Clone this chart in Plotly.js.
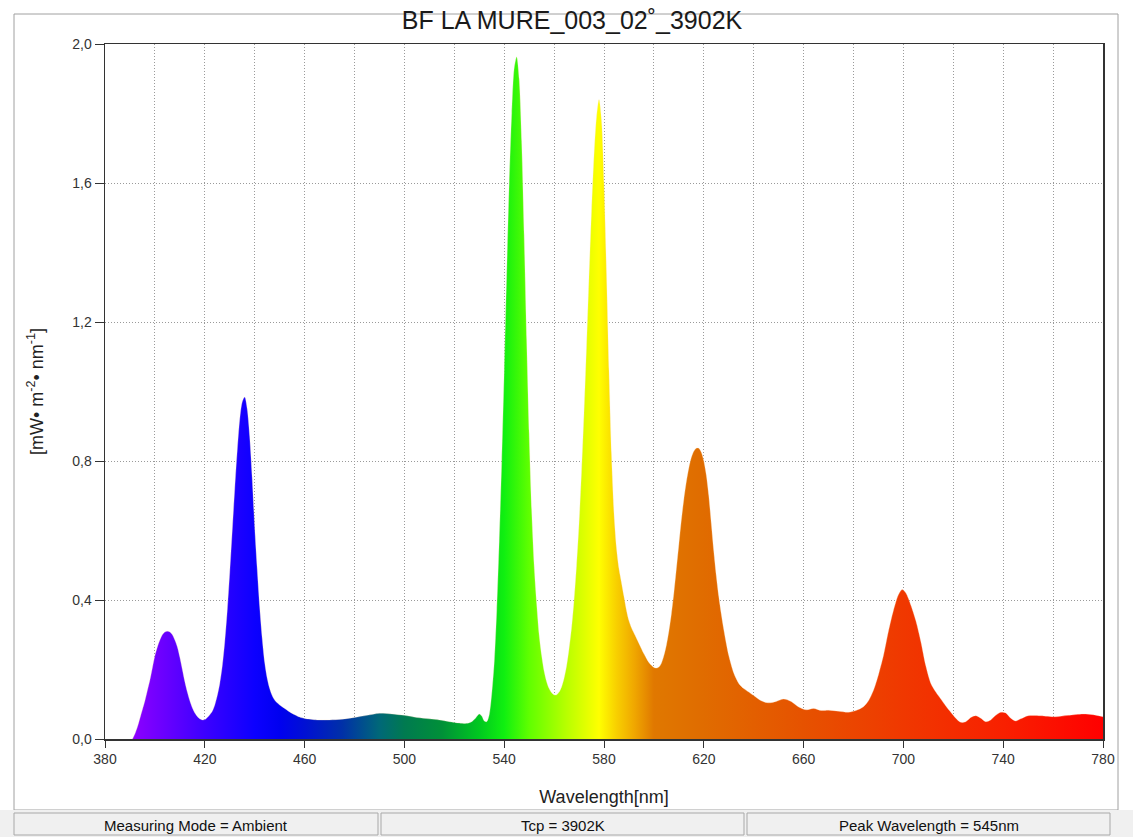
<!DOCTYPE html>
<html>
<head>
<meta charset="utf-8">
<script src="https://cdn.plot.ly/plotly-3.0.1.min.js"></script>
<style>html,body{margin:0;padding:0;background:#fff;}#chart{width:1133px;height:837px;}</style>
</head>
<body>
<div id="chart"></div>
<script>
// Spectral irradiance data (wavelength nm, mW·m-2·nm-1)
const wavelength = [391, 392, 393, 394, 395, 396, 397, 398, 399, 400, 401, 402, 403, 404, 405, 406, 407, 408, 409, 410, 411, 412, 413, 414, 415, 416, 417, 418, 419, 420, 421, 422, 423, 424, 425, 426, 427, 428, 429, 430, 431, 432, 433, 434, 435, 436, 437, 438, 439, 440, 441, 442, 443, 444, 445, 446, 447, 448, 449, 450, 452, 454, 456, 458, 460, 465, 470, 475, 480, 485, 490, 495, 500, 505, 510, 514, 518, 522, 525, 527, 528.5, 530, 531, 532, 533, 534, 535, 536, 537, 538, 539, 540, 541, 542, 543, 544, 545, 546, 547, 548, 549, 550, 551, 552, 553, 554, 555, 556, 557, 558, 559, 560, 561, 562, 563, 564, 565, 566, 567, 568, 569, 570, 571, 572, 573, 574, 575, 576, 577, 578, 579, 580, 581, 582, 583, 584, 585, 586, 587, 588, 589, 590, 591, 592, 593, 594, 595, 596, 597, 598, 599, 600, 601, 602, 603, 604, 605, 606, 607, 608, 609, 610, 611, 612, 613, 614, 615, 616, 617, 618, 619, 620, 621, 622, 623, 624, 625, 626, 627, 628, 629, 630, 632, 634, 636, 638, 640, 643, 646, 649, 652, 655, 658, 661, 664, 667, 670, 674, 678, 681, 684, 686, 688, 690, 692, 694, 696, 698, 699.5, 701, 703, 705, 707, 709, 711, 713, 715, 717, 719, 721, 723, 725, 727, 729, 731, 733, 735, 737, 739, 741, 743, 745, 747, 750, 755, 761, 766, 772, 776, 780];
const irradiance = [0, 0.015, 0.035, 0.06, 0.085, 0.11, 0.14, 0.17, 0.205, 0.24, 0.265, 0.285, 0.3, 0.308, 0.31, 0.308, 0.3, 0.285, 0.265, 0.235, 0.2, 0.165, 0.135, 0.11, 0.09, 0.075, 0.065, 0.058, 0.055, 0.056, 0.062, 0.07, 0.08, 0.098, 0.125, 0.16, 0.21, 0.28, 0.37, 0.48, 0.6, 0.72, 0.83, 0.92, 0.97, 0.984, 0.95, 0.87, 0.75, 0.61, 0.49, 0.38, 0.29, 0.22, 0.175, 0.145, 0.125, 0.112, 0.104, 0.098, 0.088, 0.078, 0.07, 0.063, 0.059, 0.055, 0.055, 0.057, 0.062, 0.068, 0.074, 0.072, 0.068, 0.062, 0.058, 0.055, 0.05, 0.046, 0.045, 0.05, 0.06, 0.072, 0.066, 0.052, 0.05, 0.07, 0.13, 0.22, 0.37, 0.57, 0.8, 1.06, 1.34, 1.6, 1.8, 1.93, 1.963, 1.9, 1.72, 1.45, 1.15, 0.88, 0.66, 0.5, 0.39, 0.3, 0.24, 0.195, 0.165, 0.145, 0.133, 0.127, 0.127, 0.135, 0.15, 0.175, 0.21, 0.26, 0.32, 0.4, 0.5, 0.62, 0.77, 0.94, 1.13, 1.33, 1.52, 1.68, 1.79, 1.84, 1.78, 1.6, 1.34, 1.06, 0.82, 0.65, 0.55, 0.49, 0.45, 0.41, 0.37, 0.34, 0.32, 0.305, 0.29, 0.275, 0.26, 0.245, 0.232, 0.22, 0.212, 0.206, 0.204, 0.207, 0.218, 0.24, 0.27, 0.31, 0.36, 0.42, 0.49, 0.56, 0.63, 0.69, 0.74, 0.78, 0.81, 0.828, 0.837, 0.837, 0.825, 0.8, 0.76, 0.7, 0.62, 0.54, 0.47, 0.41, 0.36, 0.315, 0.275, 0.24, 0.19, 0.16, 0.145, 0.135, 0.125, 0.11, 0.104, 0.108, 0.115, 0.108, 0.092, 0.084, 0.088, 0.082, 0.083, 0.08, 0.077, 0.082, 0.093, 0.11, 0.14, 0.185, 0.24, 0.31, 0.37, 0.415, 0.43, 0.42, 0.385, 0.34, 0.28, 0.21, 0.16, 0.135, 0.115, 0.095, 0.077, 0.06, 0.048, 0.05, 0.062, 0.067, 0.06, 0.05, 0.055, 0.068, 0.077, 0.075, 0.06, 0.052, 0.058, 0.067, 0.067, 0.064, 0.068, 0.072, 0.07, 0.064];

// Spectrum colour stops (wavelength nm -> colour)
const colorStopNm = [380, 390, 400, 420, 440, 450, 460, 475, 490, 500, 515, 530, 540, 550, 565, 578, 585, 592, 600, 620, 660, 700, 740, 780];
const colorStopHex = ['#9800ff', '#9000ff', '#7400ff', '#3c00ff', '#0c00ff', '#0000f0', '#0010d4', '#0030a8', '#006878', '#007a50', '#009038', '#00c820', '#10f010', '#60ff00', '#b8ff00', '#ffff00', '#f8d000', '#f0a800', '#e07800', '#e06c00', '#e65200', '#f03800', '#f82000', '#ff0000'];

const xTickVals = [380, 420, 460, 500, 540, 580, 620, 660, 700, 740, 780];
const yTickVals = [0, 0.4, 0.8, 1.2, 1.6, 2.0];

const chartTitle = 'BF LA MURE_003_02˚_3902K';
const statusTexts = ['Measuring Mode = Ambient', 'Tcp = 3902K', 'Peak Wavelength = 545nm'];

const W = 1133, H = 837;
const plotL = 105, plotR = 1103, plotT = 44, plotB = 739;
const pw = plotR - plotL, ph = plotB - plotT;
const px2paperX = p => (p - plotL) / pw;
const px2paperY = p => (plotB - p) / ph;

const xMin = 380, xMax = 780;
const colorscale = colorStopNm.map((nm, i) => [(nm - xMin) / (xMax - xMin), colorStopHex[i]]);

const trace = {
  x: wavelength,
  y: irradiance,
  type: 'scatter',
  mode: 'lines',
  line: {shape: 'spline', smoothing: 0.8, width: 0.5, color: 'rgba(255,230,200,0.6)'},
  fill: 'tozeroy',
  fillgradient: {type: 'horizontal', colorscale: colorscale, start: xMin, stop: xMax},
  hoverinfo: 'x+y',
  showlegend: false
};

const fontFam = '"Liberation Sans", Arial, sans-serif';
const gridDash = '1px,2px';

const shapes = [];
const annotations = [];
// outer frame
shapes.push({type: 'rect', xref: 'paper', yref: 'paper', layer: 'below',
  x0: px2paperX(14), x1: px2paperX(1118), y0: px2paperY(810), y1: px2paperY(14),
  line: {color: '#a0a0a0', width: 1}, fillcolor: 'rgba(0,0,0,0)'});
// status bar background
shapes.push({type: 'rect', xref: 'paper', yref: 'paper', layer: 'below',
  x0: px2paperX(0), x1: px2paperX(W), y0: px2paperY(H), y1: px2paperY(810),
  line: {width: 0}, fillcolor: '#f0f0f0'});
const boxes = [[14, 378], [381, 744], [747, 1110]];
boxes.forEach((b, i) => {
  shapes.push({type: 'rect', xref: 'paper', yref: 'paper', layer: 'below',
    x0: px2paperX(b[0]), x1: px2paperX(b[1]), y0: px2paperY(835), y1: px2paperY(813),
    line: {color: '#a8a8a8', width: 1}, fillcolor: '#f0f0f0'});
  annotations.push({xref: 'paper', yref: 'paper', x: px2paperX((b[0] + b[1]) / 2), y: px2paperY(825),
    text: statusTexts[i], showarrow: false, xanchor: 'center', yanchor: 'middle',
    font: {family: fontFam, size: 15, color: '#111'}});
});

const layout = {
  width: W, height: H,
  margin: {l: plotL, r: W - plotR, t: plotT, b: H - plotB, pad: 0},
  paper_bgcolor: '#ffffff',
  plot_bgcolor: '#ffffff',
  separators: ', ',
  title: {text: chartTitle, x: 572 / W, xref: 'container', xanchor: 'center', y: 1 - 20 / H, yanchor: 'middle',
    font: {family: fontFam, size: 25, color: '#1a1a1a'}},
  font: {family: fontFam, color: '#333'},
  xaxis: {
    range: [xMin, xMax], tickvals: xTickVals, ticktext: xTickVals.map(String),
    ticks: 'outside', ticklen: 7, tickcolor: '#333', tickwidth: 1,
    showline: true, linecolor: '#333', linewidth: 1.5, mirror: true,
    showgrid: true, gridcolor: '#9a9a9a', griddash: gridDash, gridwidth: 1,
    minor: {dtick: 20, tick0: 380, showgrid: true, gridcolor: '#9a9a9a', griddash: gridDash, gridwidth: 1, ticks: ''},
    zeroline: false,
    tickfont: {family: fontFam, size: 14, color: '#333'},
    title: {text: 'Wavelength[nm]', standoff: 24, font: {family: fontFam, size: 18, color: '#222'}}
  },
  yaxis: {
    range: [0, 2], tickvals: yTickVals, tickformat: '.1f',
    ticks: 'outside', ticklen: 9, tickcolor: '#333', tickwidth: 1,
    showline: true, linecolor: '#333', linewidth: 1.5, mirror: true,
    showgrid: true, gridcolor: '#9a9a9a', griddash: gridDash, gridwidth: 1,
    zeroline: false,
    tickfont: {family: fontFam, size: 14, color: '#333'},
    title: {text: '[mW• m<sup>-2</sup>• nm<sup>-1</sup>]', standoff: 24, font: {family: fontFam, size: 18, color: '#222'}}
  },
  shapes: shapes,
  annotations: annotations
};

Plotly.newPlot('chart', [trace], layout, {displayModeBar: false, staticPlot: true});
</script>
</body>
</html>
